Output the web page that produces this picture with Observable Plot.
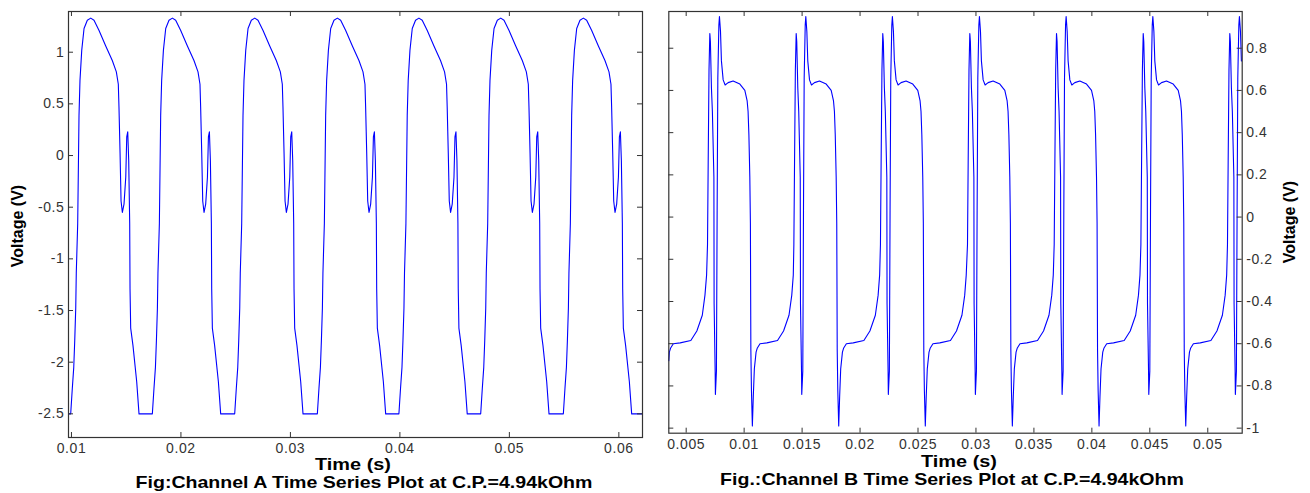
<!DOCTYPE html>
<html><head><meta charset="utf-8">
<script src="https://cdn.jsdelivr.net/npm/d3@7"></script>
<script src="https://cdn.jsdelivr.net/npm/@observablehq/plot@0.6"></script>
<style>
body{margin:0;background:#fff;width:1310px;height:493px;overflow:hidden;position:relative;font-family:Arial,"Liberation Sans",sans-serif}
#a,#b{position:absolute;top:0}
#a{left:0}
#b{left:655px}
.lbl{position:absolute;white-space:nowrap;font-weight:bold;color:#000;line-height:1}
svg text{letter-spacing:0.6px}
</style></head><body>
<div id="a"></div><div id="b"></div>
<div class="lbl" style="left:353px;top:464px;font-size:17px;transform:translate(-50%,-50%) scaleX(1.17)">Time (s)</div>
<div class="lbl" style="left:364px;top:482px;font-size:17px;transform:translate(-50%,-50%) scaleX(1.15)">Fig:Channel A Time Series Plot at C.P.=4.94kOhm</div>
<div class="lbl" style="left:18px;top:226px;font-size:16px;transform:translate(-50%,-50%) rotate(-90deg)">Voltage (V)</div>
<div class="lbl" style="left:959px;top:461px;font-size:17px;transform:translate(-50%,-50%) scaleX(1.17)">Time (s)</div>
<div class="lbl" style="left:952px;top:479px;font-size:17px;transform:translate(-50%,-50%) scaleX(1.15)">Fig.:Channel B Time Series Plot at C.P.=4.94kOhm</div>
<div class="lbl" style="left:1290px;top:222px;font-size:16px;transform:translate(-50%,-50%) rotate(-90deg)">Voltage (V)</div>
<script>
// ---------- Channel A (time in ms, voltage in V) ----------
const timeA_ms = [
  [9.73],
  [9.93,10.08,10.21,10.30,10.39,10.44,10.57,10.69,10.78,10.94,11.15,11.45,11.76,12.06,12.52,13.13,13.73,14.10,14.28,14.34,14.44,14.53,14.65,14.80,14.96,15.05,15.14,15.23,15.32,15.35,15.41,15.62,15.96,16.17],
  [17.39,17.54,17.67,17.76,17.85,17.90,18.03,18.15,18.24,18.40,18.61,18.91,19.22,19.52,19.98,20.59,21.19,21.56,21.74,21.80,21.90,21.99,22.11,22.26,22.42,22.51,22.60,22.69,22.78,22.81,22.87,23.08,23.42,23.63],
  [24.91,25.06,25.19,25.28,25.37,25.42,25.55,25.67,25.76,25.92,26.13,26.43,26.74,27.04,27.50,28.11,28.71,29.08,29.26,29.32,29.42,29.51,29.63,29.78,29.94,30.03,30.12,30.21,30.30,30.33,30.39,30.60,30.94,31.15],
  [32.46,32.61,32.74,32.83,32.92,32.97,33.10,33.22,33.31,33.47,33.68,33.98,34.29,34.59,35.05,35.66,36.26,36.63,36.81,36.87,36.97,37.06,37.18,37.33,37.49,37.58,37.67,37.76,37.85,37.88,37.94,38.15,38.49,38.70],
  [39.91,40.06,40.19,40.28,40.37,40.42,40.55,40.67,40.76,40.92,41.13,41.43,41.74,42.04,42.50,43.11,43.71,44.08,44.26,44.32,44.42,44.51,44.63,44.78,44.94,45.03,45.12,45.21,45.30,45.33,45.39,45.60,45.94,46.15],
  [47.38,47.53,47.66,47.75,47.84,47.89,48.02,48.14,48.23,48.39,48.60,48.90,49.21,49.51,49.97,50.58,51.18,51.55,51.73,51.79,51.89,51.98,52.10,52.25,52.41,52.50,52.59,52.68,52.77,52.80,52.86,53.07,53.41,53.62],
  [54.93,55.08,55.21,55.30,55.39,55.44,55.57,55.69,55.78,55.94,56.15,56.45,56.76,57.06,57.52,58.13,58.73,59.10,59.28,59.34,59.44,59.53,59.65,59.80,59.96,60.05,60.14,60.23,60.32,60.35,60.41,60.62,60.96,61.17],
  [62.15]
];
const voltA = [
  [-2.5],
  [-2.5,-2.25,-2.05,-1.79,-1.48,-1.14,-0.66,0.39,0.73,1.02,1.23,1.31,1.33,1.31,1.21,1.06,0.92,0.81,0.69,0.47,0.02,-0.44,-0.55,-0.47,-0.21,0.18,0.23,-0.05,-0.66,-1.29,-1.67,-1.84,-2.19,-2.5],
  [-2.5,-2.25,-2.05,-1.79,-1.48,-1.14,-0.66,0.39,0.73,1.02,1.23,1.31,1.33,1.31,1.21,1.06,0.92,0.81,0.69,0.47,0.02,-0.44,-0.55,-0.47,-0.21,0.18,0.23,-0.05,-0.66,-1.29,-1.67,-1.84,-2.19,-2.5],
  [-2.5,-2.25,-2.05,-1.79,-1.48,-1.14,-0.66,0.39,0.73,1.02,1.23,1.31,1.33,1.31,1.21,1.06,0.92,0.81,0.69,0.47,0.02,-0.44,-0.55,-0.47,-0.21,0.18,0.23,-0.05,-0.66,-1.29,-1.67,-1.84,-2.19,-2.5],
  [-2.5,-2.25,-2.05,-1.79,-1.48,-1.14,-0.66,0.39,0.73,1.02,1.23,1.31,1.33,1.31,1.21,1.06,0.92,0.81,0.69,0.47,0.02,-0.44,-0.55,-0.47,-0.21,0.18,0.23,-0.05,-0.66,-1.29,-1.67,-1.84,-2.19,-2.5],
  [-2.5,-2.25,-2.05,-1.79,-1.48,-1.14,-0.66,0.39,0.73,1.02,1.23,1.31,1.33,1.31,1.21,1.06,0.92,0.81,0.69,0.47,0.02,-0.44,-0.55,-0.47,-0.21,0.18,0.23,-0.05,-0.66,-1.29,-1.67,-1.84,-2.19,-2.5],
  [-2.5,-2.25,-2.05,-1.79,-1.48,-1.14,-0.66,0.39,0.73,1.02,1.23,1.31,1.33,1.31,1.21,1.06,0.92,0.81,0.69,0.47,0.02,-0.44,-0.55,-0.47,-0.21,0.18,0.23,-0.05,-0.66,-1.29,-1.67,-1.84,-2.19,-2.5],
  [-2.5,-2.25,-2.05,-1.79,-1.48,-1.14,-0.66,0.39,0.73,1.02,1.23,1.31,1.33,1.31,1.21,1.06,0.92,0.81,0.69,0.47,0.02,-0.44,-0.55,-0.47,-0.21,0.18,0.23,-0.05,-0.66,-1.29,-1.67,-1.84,-2.19,-2.5],
  [-2.5]
];
const xTicksA = [0.01,0.02,0.03,0.04,0.05,0.06];
const yTicksA = [-2.5,-2,-1.5,-1,-0.5,0,0.5,1];
const xDomainA = [0.00973,0.06216];
const yDomainA = [-2.729,1.394];

// ---------- Channel B (time in ms, voltage in V) ----------
const timeB_ms = [
  [3.50,3.55,3.66,3.89,4.48,5.40,5.92,6.39,6.62,6.76],
  [6.84,6.90,6.97,7.04,7.09,7.18,7.26,7.39,7.41,7.50,7.52,7.61,7.67,7.73,7.82,7.87,7.96,8.04,8.19,8.36,8.62,9.05,9.63,10.06,10.26,10.34,10.41,10.49,10.54,10.58,10.63,10.71,10.79,10.88,11.03,11.14,11.37,11.96,12.88,13.40,13.87,14.11,14.24],
  [14.29,14.35,14.42,14.49,14.54,14.63,14.71,14.84,14.86,14.95,14.97,15.06,15.12,15.18,15.27,15.32,15.41,15.49,15.64,15.81,16.07,16.50,17.08,17.51,17.71,17.79,17.86,17.94,17.99,18.03,18.08,18.16,18.24,18.33,18.48,18.59,18.82,19.41,20.33,20.85,21.32,21.56,21.69],
  [21.76,21.82,21.89,21.96,22.01,22.10,22.18,22.31,22.33,22.42,22.44,22.53,22.59,22.65,22.74,22.79,22.88,22.96,23.11,23.28,23.54,23.97,24.55,24.98,25.18,25.26,25.33,25.41,25.46,25.50,25.55,25.63,25.71,25.80,25.95,26.06,26.29,26.88,27.80,28.32,28.79,29.03,29.16],
  [29.27,29.33,29.40,29.47,29.52,29.61,29.69,29.82,29.84,29.93,29.95,30.04,30.10,30.16,30.25,30.30,30.39,30.47,30.62,30.79,31.05,31.48,32.06,32.49,32.69,32.77,32.84,32.92,32.97,33.01,33.06,33.14,33.22,33.31,33.46,33.57,33.80,34.39,35.31,35.83,36.30,36.54,36.67],
  [36.75,36.81,36.88,36.95,37.00,37.09,37.17,37.30,37.32,37.41,37.43,37.52,37.58,37.64,37.73,37.78,37.87,37.95,38.10,38.27,38.53,38.96,39.54,39.97,40.17,40.25,40.32,40.40,40.45,40.49,40.54,40.62,40.70,40.79,40.94,41.05,41.28,41.87,42.79,43.31,43.78,44.02,44.15],
  [44.23,44.29,44.36,44.43,44.48,44.57,44.65,44.78,44.80,44.89,44.91,45.00,45.06,45.12,45.21,45.26,45.35,45.43,45.58,45.75,46.01,46.44,47.02,47.45,47.65,47.73,47.80,47.88,47.93,47.97,48.02,48.10,48.18,48.27,48.42,48.53,48.76,49.35,50.27,50.79,51.26,51.50,51.63],
  [51.70,51.76,51.83,51.90,51.95,52.04,52.12,52.25,52.27,52.36,52.38,52.47,52.53,52.59,52.68,52.73,52.82,52.90]
];
const voltB = [
  [-0.68,-0.64,-0.62,-0.60,-0.596,-0.585,-0.54,-0.465,-0.37,-0.275],
  [-0.13,0.27,0.70,0.87,0.83,0.61,0.50,0.19,-0.41,-0.73,-0.84,-0.73,0.03,0.66,0.91,0.95,0.88,0.74,0.65,0.626,0.637,0.645,0.63,0.60,0.55,0.50,0.39,0.19,-0.03,-0.63,-0.82,-0.99,-0.85,-0.72,-0.64,-0.62,-0.60,-0.596,-0.585,-0.54,-0.465,-0.37,-0.275],
  [-0.13,0.27,0.70,0.87,0.83,0.61,0.50,0.19,-0.41,-0.73,-0.84,-0.73,0.03,0.66,0.91,0.95,0.88,0.74,0.65,0.626,0.637,0.645,0.63,0.60,0.55,0.50,0.39,0.19,-0.03,-0.63,-0.82,-0.99,-0.85,-0.72,-0.64,-0.62,-0.60,-0.596,-0.585,-0.54,-0.465,-0.37,-0.275],
  [-0.13,0.27,0.70,0.87,0.83,0.61,0.50,0.19,-0.41,-0.73,-0.84,-0.73,0.03,0.66,0.91,0.95,0.88,0.74,0.65,0.626,0.637,0.645,0.63,0.60,0.55,0.50,0.39,0.19,-0.03,-0.63,-0.82,-0.99,-0.85,-0.72,-0.64,-0.62,-0.60,-0.596,-0.585,-0.54,-0.465,-0.37,-0.275],
  [-0.13,0.27,0.70,0.87,0.83,0.61,0.50,0.19,-0.41,-0.73,-0.84,-0.73,0.03,0.66,0.91,0.95,0.88,0.74,0.65,0.626,0.637,0.645,0.63,0.60,0.55,0.50,0.39,0.19,-0.03,-0.63,-0.82,-0.99,-0.85,-0.72,-0.64,-0.62,-0.60,-0.596,-0.585,-0.54,-0.465,-0.37,-0.275],
  [-0.13,0.27,0.70,0.87,0.83,0.61,0.50,0.19,-0.41,-0.73,-0.84,-0.73,0.03,0.66,0.91,0.95,0.88,0.74,0.65,0.626,0.637,0.645,0.63,0.60,0.55,0.50,0.39,0.19,-0.03,-0.63,-0.82,-0.99,-0.85,-0.72,-0.64,-0.62,-0.60,-0.596,-0.585,-0.54,-0.465,-0.37,-0.275],
  [-0.13,0.27,0.70,0.87,0.83,0.61,0.50,0.19,-0.41,-0.73,-0.84,-0.73,0.03,0.66,0.91,0.95,0.88,0.74,0.65,0.626,0.637,0.645,0.63,0.60,0.55,0.50,0.39,0.19,-0.03,-0.63,-0.82,-0.99,-0.85,-0.72,-0.64,-0.62,-0.60,-0.596,-0.585,-0.54,-0.465,-0.37,-0.275],
  [-0.13,0.27,0.70,0.87,0.83,0.61,0.50,0.19,-0.41,-0.73,-0.84,-0.73,0.03,0.66,0.91,0.95,0.88,0.74]
];
const xTicksB = [0.005,0.01,0.015,0.02,0.025,0.03,0.035,0.04,0.045,0.05];
const yTicksB = [-1,-0.8,-0.6,-0.4,-0.2,0,0.2,0.4,0.6,0.8];
const xDomainB = [0.0035,0.05297];
const yDomainB = [-1.024,0.974];

function rows(times, volts){
  const out = [];
  times.forEach((seg, i) => seg.forEach((t, j) => out.push({t: t/1000, v: volts[i][j]})));
  return out;
}

function panel(opts){
  const {data, xDomain, yDomain, xTicks, yTicks, width, height, ml, mr, mt, mb, yAnchor} = opts;
  const iw = width - ml - mr, ih = height - mt - mb;
  const ink = "#333";
  return Plot.plot({
    width, height, marginLeft: ml, marginRight: mr, marginTop: mt, marginBottom: mb,
    style: {fontFamily: 'Arial,"Liberation Sans",sans-serif', fontSize: "14px", color: ink, background: "transparent", overflow: "visible"},
    x: {domain: xDomain},
    y: {domain: yDomain},
    marks: [
      Plot.line(data, {x: "t", y: "v", stroke: "#0000ff", strokeWidth: 1.1}),
      Plot.tickX(xTicks, {x: d => d, insetTop: ih - 5, stroke: ink}),
      Plot.tickX(xTicks, {x: d => d, insetBottom: ih - 5, stroke: ink}),
      Plot.tickY(yTicks, {y: d => d, insetRight: iw - 5, stroke: ink}),
      Plot.tickY(yTicks, {y: d => d, insetLeft: iw - 5, stroke: ink}),
      Plot.axisX(xTicks, {tickSize: 0, tickPadding: 6, tickFormat: d => String(d), label: null}),
      Plot.axisY(yTicks, {anchor: yAnchor, tickSize: 0, tickPadding: 4, tickFormat: d => String(d), label: null}),
      Plot.frame({stroke: ink, strokeWidth: 1.2})
    ]
  });
}

document.getElementById("a").append(panel({
  data: rows(timeA_ms, voltA), xDomain: xDomainA, yDomain: yDomainA, xTicks: xTicksA, yTicks: yTicksA,
  width: 655, height: 460, ml: 68, mr: 13, mt: 11, mb: 23, yAnchor: "left"
}));
document.getElementById("b").append(panel({
  data: rows(timeB_ms, voltB), xDomain: xDomainB, yDomain: yDomainB, xTicks: xTicksB, yTicks: yTicksB,
  width: 655, height: 460, ml: 13.3, mr: 68.3, mt: 11, mb: 27.3, yAnchor: "right"
}));
</script>
</body></html>
